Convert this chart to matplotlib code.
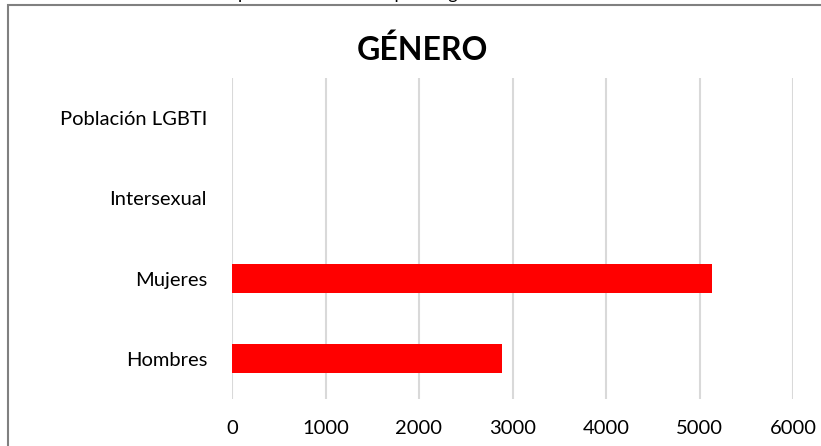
import matplotlib.pyplot as plt
from matplotlib.patches import Rectangle

# datos
categorias = ['Hombres', 'Mujeres', 'Intersexual', 'Población LGBTI']
valores = [2885, 5135, 0, 0]
ticks_x = [0, 1000, 2000, 3000, 4000, 5000, 6000]

plt.rcParams['font.family'] = ['Lato', 'DejaVu Sans']

fig = plt.figure(figsize=(8.21, 4.46), dpi=100)
ax = fig.add_axes([232 / 821, 1 - 399 / 446, (793 - 232) / 821, (399 - 78) / 446])

ax.barh(range(len(categorias)), valores, height=0.36, color='#ff0000', zorder=3)
ax.set_xlim(0, 6000)
ax.set_ylim(-0.5, len(categorias) - 0.5)
ax.set_xticks(ticks_x)
ax.set_xticklabels([str(t) for t in ticks_x])
ax.set_yticks(range(len(categorias)))
ax.set_yticklabels(categorias)
ax.tick_params(axis='both', length=0, labelsize=14.5, colors='#000000')
ax.tick_params(axis='x', pad=15)
ax.tick_params(axis='y', pad=18)
ax.grid(axis='x', color='#d9d9d9', linewidth=1.5, zorder=0)
for s in ax.spines.values():
    s.set_visible(False)

fig.text(422 / 821, 1 - 50 / 446, 'GÉNERO', ha='center', va='center',
         fontsize=23, fontweight='bold')

# texto cortado arriba de la imagen
fig.text(238 / 821, 1 + 1 / 446, 'personas atendidas por su género', ha='left',
         va='baseline', fontsize=13)

# borde del area del grafico
fig.patches.append(Rectangle((8 / 821, -0.2), 1.2, 1.2 - 4.5 / 446,
                             transform=fig.transFigure, fill=False,
                             edgecolor='#808080', linewidth=1.5))

fig.savefig('out.png', dpi=100)
